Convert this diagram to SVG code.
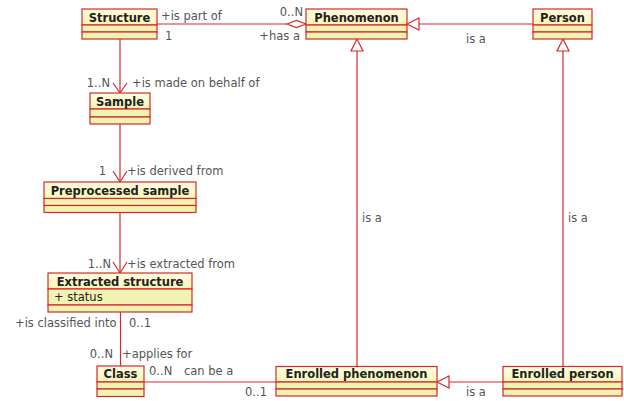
<svg xmlns="http://www.w3.org/2000/svg" width="624" height="401" viewBox="0 0 624 401">
<defs>
<linearGradient id="hdr" x1="0" y1="0" x2="0" y2="1">
<stop offset="0" stop-color="#fffde0"/>
<stop offset="1" stop-color="#fbf5b8"/>
</linearGradient>
<style>
.box{stroke:#d42a2a;stroke-width:1.2}
.h{fill:url(#hdr)}
.c{fill:#f1f3b2}
.name{font-family:"DejaVu Sans",sans-serif;font-weight:bold;font-size:11.5px;fill:#222;text-anchor:middle}
.attr{font-family:"DejaVu Sans",sans-serif;font-size:11.5px;fill:#222}
.lbl{font-family:"DejaVu Sans",sans-serif;font-size:11.5px;fill:#555}
.e{text-anchor:end}
.ln{stroke:#d42a2a;stroke-width:1.2;fill:none}
.hd{stroke:#d42a2a;stroke-width:1.2;fill:#fff}
</style>
</defs>
<rect width="624" height="401" fill="#fff"/>

<g id="connectors">
<line class="ln" x1="157" y1="24" x2="287" y2="24"/>
<polygon class="hd" points="287,24 296.5,20.5 306,24 296.5,27.5"/>
<line class="ln" x1="533" y1="24" x2="419" y2="24"/>
<polygon class="hd" points="407,24 419,18 419,30"/>
<line class="ln" x1="120" y1="39" x2="120" y2="93"/>
<polyline class="ln" points="113,83 120,93 127,83"/>
<line class="ln" x1="120" y1="124" x2="120" y2="182"/>
<polyline class="ln" points="113,171 120,182 127,171"/>
<line class="ln" x1="120" y1="212" x2="120" y2="273"/>
<polyline class="ln" points="113,262 120,273 127,262"/>
<line class="ln" x1="120.5" y1="312" x2="120.5" y2="366"/>
<line class="ln" x1="144" y1="382" x2="276" y2="382"/>
<line class="ln" x1="357" y1="367" x2="357" y2="51"/>
<polygon class="hd" points="357,39 351,51 363,51"/>
<line class="ln" x1="563" y1="367" x2="563" y2="51"/>
<polygon class="hd" points="563,39 557,51 569,51"/>
<line class="ln" x1="503" y1="382" x2="449" y2="382"/>
<polygon class="hd" points="437,382 449,376 449,388"/>

<text class="lbl" x="161" y="20">+is part of</text>
<text class="lbl e" x="303" y="16">0..N</text>
<text class="lbl" x="165" y="40">1</text>
<text class="lbl e" x="300" y="40">+has a</text>
<text class="lbl" x="466" y="43">is a</text>
<text class="lbl e" x="110" y="87">1..N</text>
<text class="lbl" x="132" y="87">+is made on behalf of</text>
<text class="lbl e" x="106" y="175">1</text>
<text class="lbl" x="127" y="175">+is derived from</text>
<text class="lbl e" x="111" y="268">1..N</text>
<text class="lbl" x="127" y="268">+is extracted from</text>
<text class="lbl" x="15" y="327">+is classified into</text>
<text class="lbl" x="129" y="327">0..1</text>
<text class="lbl e" x="113" y="358">0..N</text>
<text class="lbl" x="122" y="358">+applies for</text>
<text class="lbl" x="149" y="375">0..N</text>
<text class="lbl" x="184" y="375">can be a</text>
<text class="lbl" x="245" y="396">0..1</text>
<text class="lbl" x="362" y="222">is a</text>
<text class="lbl" x="568" y="222">is a</text>
<text class="lbl" x="466" y="396">is a</text>
</g>

<g id="Structure">
<rect class="box h" x="82" y="9" width="75" height="16"/>
<rect class="box c" x="82" y="25" width="75" height="7"/>
<rect class="box c" x="82" y="32" width="75" height="7"/>
<text class="name" x="119.5" y="21.5">Structure</text>
</g>
<g id="Phenomenon">
<rect class="box h" x="306" y="9" width="101" height="16"/>
<rect class="box c" x="306" y="25" width="101" height="7"/>
<rect class="box c" x="306" y="32" width="101" height="7"/>
<text class="name" x="356.5" y="21.5">Phenomenon</text>
</g>
<g id="Person">
<rect class="box h" x="533" y="9" width="59" height="16"/>
<rect class="box c" x="533" y="25" width="59" height="7"/>
<rect class="box c" x="533" y="32" width="59" height="7"/>
<text class="name" x="562.5" y="21.5">Person</text>
</g>
<g id="Sample">
<rect class="box h" x="90" y="93" width="60" height="16"/>
<rect class="box c" x="90" y="109" width="60" height="8"/>
<rect class="box c" x="90" y="117" width="60" height="7"/>
<text class="name" x="120" y="105.5">Sample</text>
</g>
<g id="PreprocessedSample">
<rect class="box h" x="44" y="182" width="152" height="16.5"/>
<rect class="box c" x="44" y="198.5" width="152" height="7"/>
<rect class="box c" x="44" y="205.5" width="152" height="7"/>
<text class="name" x="120" y="194.5">Preprocessed sample</text>
</g>
<g id="ExtractedStructure">
<rect class="box h" x="48" y="273" width="144" height="16"/>
<rect class="box c" x="48" y="289" width="144" height="16"/>
<rect class="box c" x="48" y="305" width="144" height="7"/>
<text class="name" x="120" y="285.5">Extracted structure</text>
<text class="attr" x="54" y="301">+ status</text>
</g>
<g id="Class">
<rect class="box h" x="97" y="366" width="47" height="16"/>
<rect class="box c" x="97" y="382" width="47" height="7"/>
<rect class="box c" x="97" y="389" width="47" height="7.5"/>
<text class="name" x="120.5" y="378">Class</text>
</g>
<g id="EnrolledPhenomenon">
<rect class="box h" x="276" y="366.5" width="161" height="15.5"/>
<rect class="box c" x="276" y="382" width="161" height="7"/>
<rect class="box c" x="276" y="389" width="161" height="7"/>
<text class="name" x="356.5" y="378">Enrolled phenomenon</text>
</g>
<g id="EnrolledPerson">
<rect class="box h" x="503" y="366.5" width="119" height="15.5"/>
<rect class="box c" x="503" y="382" width="119" height="7"/>
<rect class="box c" x="503" y="389" width="119" height="7"/>
<text class="name" x="562.5" y="378">Enrolled person</text>
</g>
</svg>
